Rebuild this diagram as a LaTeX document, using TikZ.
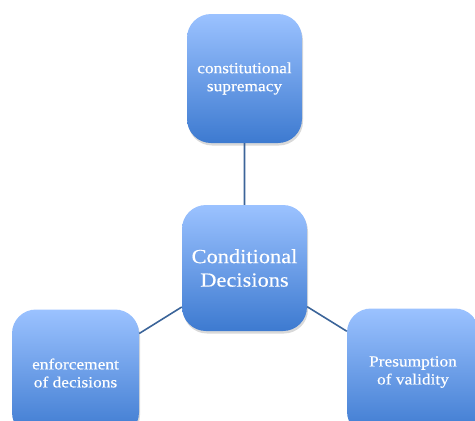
\documentclass[tikz,border=0pt]{standalone}
\usepackage{fontspec}
\setmainfont{Liberation Serif}[FakeStretch=1.12,FakeBold=0.4]
\usetikzlibrary{shadows}
\definecolor{boxtop}{HTML}{9BC2FF}
\definecolor{boxbot}{HTML}{3D7AD0}
\definecolor{linkblue}{HTML}{3B6499}
\tikzset{
  box/.style={rounded corners=24pt, top color=boxtop, bottom color=boxbot,
    text=white, align=center, minimum width=127pt, minimum height=127pt,
    inner sep=2pt, drop shadow={opacity=.3, shadow xshift=1pt, shadow yshift=-2.5pt},
    font=\fontsize{15.5}{18}\selectfont},
  link/.style={draw=linkblue, line width=1.6pt}
}
\begin{document}
\begin{tikzpicture}[x=1pt,y=-1pt]
    \useasboundingbox (0,0) rectangle (475,421);
    \clip (0,0) rectangle (475,421);
    \node[box,minimum width=115pt,minimum height=129pt] (supremacy) at (244.5,78.5) {constitutional\\supremacy};
    \node[box,minimum width=125pt,minimum height=126pt,font=\fontsize{20}{23.5}\selectfont] (decisions) at (244.5,268) {Conditional\\Decisions};
    \node[box] (enforcement) at (75.5,373) {enforcement\\of decisions};
    \node[box,minimum width=132pt] (presumption) at (413,372) {Presumption\\of validity};
    \draw[link] (supremacy)--(decisions) (decisions)--(enforcement) (decisions)--(presumption);
\end{tikzpicture}
\end{document}
